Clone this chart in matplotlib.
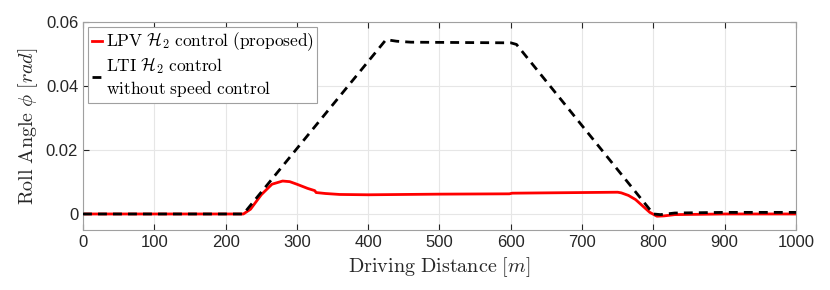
import matplotlib
matplotlib.use("Agg")
import matplotlib.pyplot as plt

plt.rcParams["mathtext.fontset"] = "cm"
plt.rcParams["font.family"] = ["Liberation Sans", "DejaVu Sans"]

# LPV H2 control (proposed)
lpv_x = [0, 225, 235, 250, 265, 280, 290, 300, 315, 325, 327, 340, 360, 400, 450,
         500, 598, 602, 650, 700, 750, 755, 765, 775, 785, 795, 805, 815, 830, 900, 1000]
lpv_y = [0, 0, 0.0015, 0.006, 0.0093, 0.0103, 0.0101, 0.0093, 0.008, 0.0073, 0.0067,
         0.0064, 0.0061, 0.006, 0.0061, 0.0062, 0.0063, 0.0065, 0.0066, 0.0067, 0.0068,
         0.0066, 0.0058, 0.0045, 0.0025, 0.0005, -0.0007, -0.0006, -0.0002, 0, 0]

# LTI H2 control without speed control
lti_x = [0, 225, 425, 440, 460, 600, 608, 800, 810, 830, 900, 1000]
lti_y = [0, 0, 0.0545, 0.054, 0.0537, 0.0535, 0.053, 0.0, -0.0002, 0.0003, 0.0005, 0.0005]

fig = plt.figure(figsize=(8.3, 2.9), dpi=100)
ax = fig.add_axes([0.1, 0.207, 0.859, 0.717])

ax.plot(lpv_x, lpv_y, color="#ff0000", lw=2, zorder=2,
        label="$\\mathrm{LPV}\\ \\mathcal{H}_2\\ \\mathrm{control\\ (proposed)}$")
ax.plot(lti_x, lti_y, color="black", lw=2, dashes=(3.2, 2.2), zorder=3,
        label="$\\mathrm{LTI}\\ \\mathcal{H}_2\\ \\mathrm{control}$\n$\\mathrm{without\\ speed\\ control}$")

ax.set_xlim(0, 1000)
ax.set_ylim(-0.005, 0.06)
ax.set_xticks(range(0, 1001, 100))
ax.set_yticks([0, 0.02, 0.04, 0.06])
ax.set_yticklabels(["0", "0.02", "0.04", "0.06"])
ax.tick_params(direction="in", labelsize=12, colors="#262626", length=4,
               top=True, right=True)
ax.grid(True, color="#e6e6e6", lw=0.8)
for s in ax.spines.values():
    s.set_color("#a0a0a0")

ax.set_xlabel("$\\mathrm{Driving\\ Distance}\\ [m]$", fontsize=14.5, color="#262626")
ax.set_ylabel("$\\mathrm{Roll\\ Angle}\\ \\phi\\ [rad]$", fontsize=14.5, color="#262626")

leg = ax.legend(loc="upper left", fontsize=12.5, handlelength=0.6,
                handletextpad=0.2, borderpad=0.2, labelspacing=0.1, fancybox=False,
                framealpha=1, borderaxespad=0.3)
leg.get_frame().set_edgecolor("#a0a0a0")
leg.get_frame().set_linewidth(0.8)

fig.savefig("out.png", dpi=100)
